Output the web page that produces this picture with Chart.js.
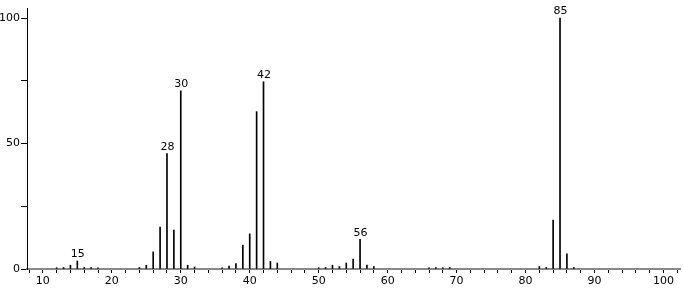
<!DOCTYPE html>
<html><head><meta charset="utf-8">
<script src="https://cdn.jsdelivr.net/npm/chart.js@4/dist/chart.umd.min.js"></script>
<style>html,body{margin:0;padding:0;background:#fff;}canvas{display:block;}</style>
</head><body>
<canvas id="c" width="683" height="291"></canvas>
<script>
const mz =        [12, 13, 14, 15, 16, 17, 18, 24, 25, 26, 27, 28, 29, 30, 31, 32, 36, 37, 38, 39, 40, 41, 42, 43, 44, 50, 51, 52, 53, 54, 55, 56, 57, 58, 66, 67, 68, 69, 82, 83, 84, 85, 86, 87];
const intensity = [0.5,0.6,1.5,3.2,0.6,0.6,0.5,0.6,1.5,6.8,16.7,46,15.5,71, 1.5,0.8,0.5,1.2,2.2,9.5,14, 62.7,74.6,3, 2.4,0.5,0.6,1.5,1, 2.4,4, 11.8,1.6,1, 0.5,0.6,0.5,0.6,1, 0.6,19.5,100,6, 0.6];
const labeledPeaks = [15, 28, 30, 42, 56, 85];
const xTickValues = [8,10,12,14,16,18,20,22,24,26,28,30,32,34,36,38,40,42,44,46,48,50,52,54,56,58,60,62,64,66,68,70,72,74,76,78,80,82,84,86,88,90,92,94,96,98,100,102];
const xLabelValues = [10,20,30,40,50,60,70,80,90,100];
const yTickValues = [0,25,50,75,100];
const yLabelValues = [0,50,100];

const FONT = {family: '"DejaVu Sans", Arial, sans-serif', size: 11};

const peakLabels = {
  id: 'peakLabels',
  afterDatasetsDraw(chart) {
    const ctx = chart.ctx, xs = chart.scales.x, ys = chart.scales.y;
    ctx.save();
    ctx.fillStyle = '#000';
    ctx.font = '11px "DejaVu Sans", Arial, sans-serif';
    ctx.textAlign = 'center';
    ctx.textBaseline = 'bottom';
    labeledPeaks.forEach(m => {
      const i = mz.indexOf(m);
      ctx.fillText(String(m), xs.getPixelForValue(m) + 0.5, ys.getPixelForValue(intensity[i]) - 1);
    });
    ctx.restore();
  }
};

new Chart(document.getElementById('c'), {
  type: 'bar',
  data: {
    datasets: [{
      data: mz.map((m, i) => ({x: m, y: intensity[i]})),
      backgroundColor: '#000',
      borderWidth: 0,
      barThickness: 1
    }]
  },
  options: {
    responsive: false,
    animation: false,
    plugins: {legend: {display: false}, tooltip: {enabled: false}},
    layout: {padding: {top: 8, right: 3, left: 0, bottom: 0}},
    scales: {
      x: {
        type: 'linear',
        offset: false,
        min: 7.7, max: 102.4,
        afterBuildTicks(s) { s.ticks = xTickValues.map(v => ({value: v})); },
        afterFit(s) { s.height = 22; },
        ticks: {
          autoSkip: false, maxRotation: 0, color: '#000', font: FONT, padding: 2,
          callback: v => xLabelValues.includes(v) ? String(v) : ''
        },
        grid: {drawOnChartArea: false, offset: false, drawTicks: true, tickLength: 4, color: '#000', tickWidth: 1},
        border: {display: true, color: '#888', width: 2}
      },
      y: {
        min: 0, max: 104,
        afterBuildTicks(s) { s.ticks = yTickValues.map(v => ({value: v})); },
        afterFit(s) { s.width = 27; },
        ticks: {
          autoSkip: false, color: '#000', font: FONT, padding: 1,
          callback: v => yLabelValues.includes(v) ? String(v) : ''
        },
        grid: {drawOnChartArea: false, drawTicks: true, tickLength: 6, color: '#000', tickWidth: 1},
        border: {display: true, color: '#000', width: 1}
      }
    }
  },
  plugins: [peakLabels]
});
</script>
</body></html>
